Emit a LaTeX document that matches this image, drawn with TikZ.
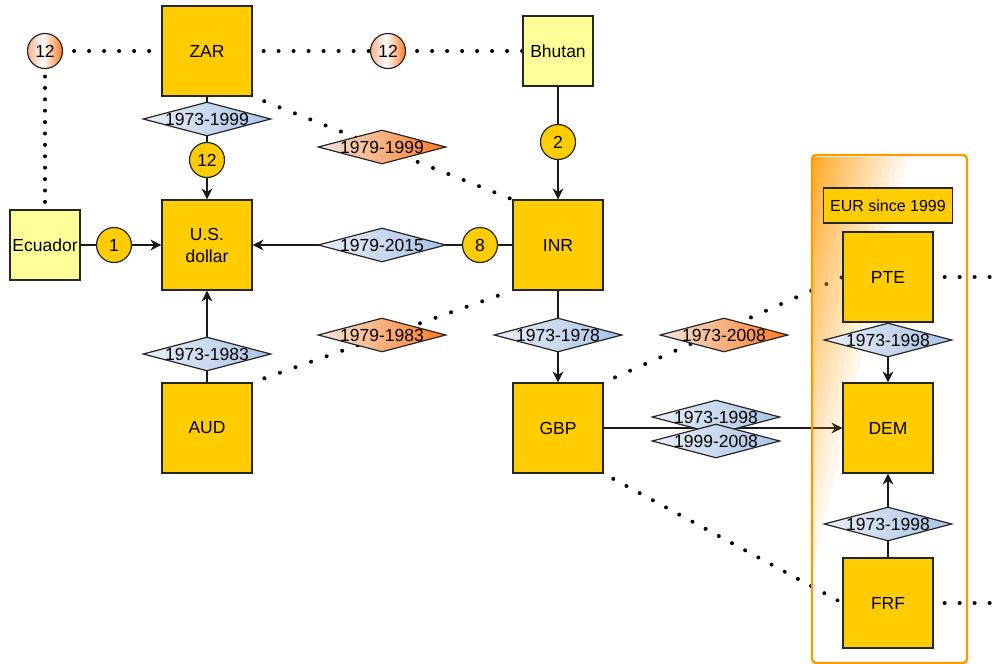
\documentclass[tikz,border=0pt]{standalone}
\usepackage{fontspec}
\setmainfont{Liberation Sans}
\usetikzlibrary{shapes.geometric,arrows.meta}
\definecolor{ybox}{HTML}{FFCC00}
\definecolor{lybox}{HTML}{FFFF99}
\definecolor{bl1}{HTML}{E8EEF7}
\definecolor{bl2}{HTML}{A9C3E6}
\definecolor{or1}{HTML}{F3E6DE}
\definecolor{or2}{HTML}{FF7A20}
\definecolor{oc1}{HTML}{F7B088}
\definecolor{euro}{HTML}{FF9900}
\pgfdeclarelayer{background}
\pgfdeclarelayer{tint}
\pgfsetlayers{background,tint,main}
\pgfdeclarehorizontalshading{orcircle}{100bp}{color(0bp)=(oc1); color(25bp)=(oc1); color(47bp)=(white); color(75bp)=(or2); color(100bp)=(or2)}
\newcommand\dtxt[1]{\makebox[0pt]{#1}}
\begin{document}
\begin{tikzpicture}[x=1pt,y=-1pt,
  font=\fontsize{17.5}{22}\selectfont,
  box/.style={draw=black!85, line width=1.2pt, fill=ybox, minimum width=90pt, minimum height=90pt, inner sep=0pt, align=center},
  lbox/.style={box, fill=lybox, minimum width=70pt, minimum height=70pt},
  circ/.style={circle, draw=black!85, line width=1.2pt, fill=ybox, minimum size=35pt, inner sep=0pt},
  ocirc/.style={circle, draw=black!85, line width=1.2pt, shade, shading=orcircle, minimum size=35pt, inner sep=0pt},
  dia/.style={diamond, draw=black!85, line width=1.2pt, minimum width=128pt, minimum height=34pt, inner sep=0pt, left color=bl1, right color=bl2},
  odia/.style={dia, left color=or1, right color=or2},
  edge/.style={draw=black!90, line width=1.2pt},
  arr/.style={edge, -{Stealth[length=11pt,width=11pt,inset=3.5pt]}},
  dots/.style={draw=black, line width=4pt, line cap=round, dash pattern=on 0pt off 15pt, dash phase=4pt},
  vdots/.style={dots, dash pattern=on 0pt off 11.4pt}
]
\useasboundingbox (0,0) rectangle (1002,664);

\node[box] (ZAR) at (207,51) {ZAR};
\node[ocirc] (cL) at (45,51) {12};
\node[ocirc] (cM) at (388,51) {12};
\node[lbox] (BHU) at (558,51) {Bhutan};
\node[dia] (d1) at (207,119) {\dtxt{1973-1999}};
\node[circ] (c12) at (207,160) {12};
\node[box] (USD) at (207,245) {U.S.\\dollar};
\node[lbox] (ECU) at (45,245) {Ecuador};
\node[circ] (c1) at (114,245) {1};
\node[dia] (d2) at (382,245) {\dtxt{1979-2015}};
\node[circ] (c8) at (480,245) {8};
\node[box] (INR) at (558,245) {INR};
\node[circ] (c2) at (558,142) {2};
\node[odia] (o1) at (382,147) {\dtxt{1979-1999}};
\node[dia] (d3) at (207,354) {\dtxt{1973-1983}};
\node[box] (AUD) at (207,428) {AUD};
\node[odia] (o2) at (382,335) {\dtxt{1979-1983}};
\node[dia] (d4) at (558,335) {\dtxt{1973-1978}};
\node[box] (GBP) at (558,428) {GBP};
\node[odia] (o3) at (724,335) {\dtxt{1973-2008}};
\node[dia] (d5) at (716,417) {\dtxt{1973-1998}};
\node[dia] (d6) at (716,441) {\dtxt{1999-2008}};
\node[draw=black!85, line width=1.2pt, fill=ybox, minimum width=129pt, minimum height=35pt, inner sep=0pt, font=\fontsize{16}{19}\selectfont] (EUR) at (888,205.5) {EUR since 1999};
\node[box] (PTE) at (888,277) {PTE};
\node[box] (DEM) at (888,428) {DEM};
\node[box] (FRF) at (888,603) {FRF};
\node[dia] (d7) at (888,340) {\dtxt{1973-1998}};
\node[dia] (d8) at (888,524) {\dtxt{1973-1998}};
\coordinate (pR) at (1000,277);
\coordinate (fR) at (1000,603);

\begin{pgfonlayer}{background}
\draw[dots] (cL) -- (ZAR);
\draw[vdots] (cL) -- (ECU);
\draw[dots] (ZAR) -- (cM);
\draw[dots] (cM) -- (BHU);
\draw[dots, dash pattern=on 0pt off 16.5pt] (ZAR.south east) -- (INR.north west);
\draw[dots, dash pattern=on 0pt off 16.5pt] (AUD.north east) -- (INR.south west);
\draw[dots, dash pattern=on 0pt off 16.5pt] (GBP.north east) -- (PTE.west);
\draw[dots] (GBP.south east) -- (FRF.west);
\draw[dots] (PTE.east) -- (pR);
\draw[dots] (FRF.east) -- (fR);
\draw[edge] (ZAR) -- (c12);
\draw[arr] (c12) -- (USD);
\draw[edge] (BHU) -- (c2);
\draw[arr] (c2) -- (INR);
\draw[edge] (ECU) -- (c1);
\draw[arr] (c1) -- (USD);
\draw[edge] (INR) -- (c8);
\draw[arr] (c8) -- (USD);
\draw[arr] (AUD) -- (USD);
\draw[arr] (INR) -- (GBP);
\draw[arr] (GBP) -- (DEM);
\draw[arr] (PTE) -- (DEM);
\draw[arr] (FRF) -- (DEM);
\end{pgfonlayer}

\begin{pgfonlayer}{tint}
\begin{scope}
\clip (813,157) rectangle (966,662);
\foreach \i in {0,...,23} {
  \pgfmathsetmacro\dd{96*(1-0.924^\i)/0.85}
  \fill[euro, fill opacity=0.076] (908-\dd,157) -- (700,157) -- (700,662) -- (791.5-\dd,662) -- cycle;
}
\end{scope}
\draw[euro, line width=2.4pt, rounded corners=4pt] (812,155) rectangle (967,663);
\end{pgfonlayer}
\end{tikzpicture}
\end{document}
